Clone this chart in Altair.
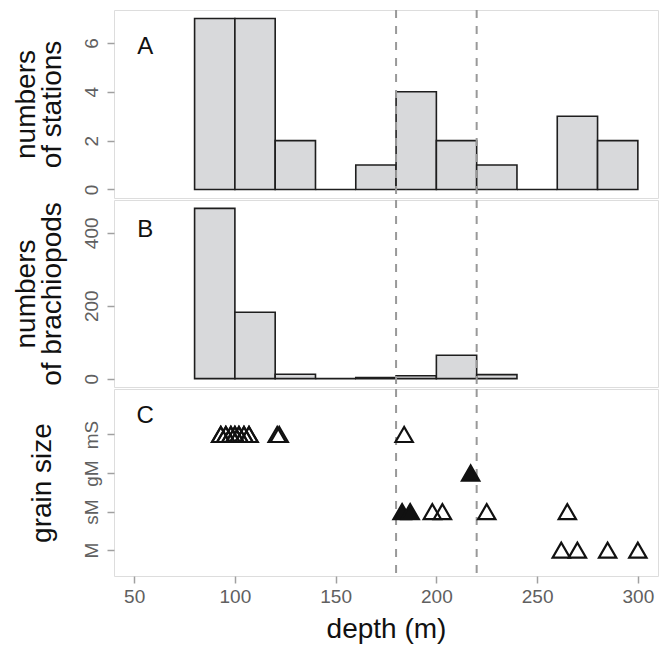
import altair as alt
import pandas as pd

# --- data ---
bin_start = [80, 100, 120, 140, 160, 180, 200, 220, 240, 260, 280]
stations = [7, 7, 2, 0, 1, 4, 2, 1, 0, 3, 2]
brachiopods = [467, 182, 12, 0, 3, 8, 64, 11, 0, 0, 0]

grain_levels = ["M", "sM", "gM", "mS"]
pt_depth = [93, 93, 95.5, 95.5, 98, 98, 100, 100, 102, 102, 104.5, 104.5, 107, 107,
            121, 122,
            184,
            183, 187, 198, 203, 225, 265,
            217,
            262, 270, 285, 300]
pt_grain = ["mS"] * 17 + ["sM"] * 6 + ["gM"] + ["M"] * 4
pt_filled = [False] * 17 + [True, True, False, False, False, False] + [True] + [False] * 4

boundaries = [180, 220]
x_ticks = [50, 100, 150, 200, 250, 300]

# --- tables ---
hist = pd.DataFrame({"x": bin_start, "x2": [b + 20 for b in bin_start],
                     "stations": stations, "brachiopods": brachiopods})
hist_b = hist[hist["x"] < 240]
pts = pd.DataFrame({"depth": pt_depth, "grain": pt_grain, "filled": pt_filled})
pts["level"] = pts["grain"].map({g: i + 1 for i, g in enumerate(grain_levels)})
vl = pd.DataFrame({"d": boundaries})

W = 544
FONT = "Liberation Sans"
XDOM = [40, 310]
xscale = alt.Scale(domain=XDOM, nice=False, zero=False)
LABEL_COLOR = "#606060"
TICK_COLOR = "#a0a0a0"

xaxis_bottom = alt.Axis(title="depth (m)", values=x_ticks, grid=False, domain=False,
                        tickColor=TICK_COLOR, tickSize=7, tickWidth=1.5,
                        labelColor=LABEL_COLOR, labelFontSize=19, labelPadding=4,
                        titleFontSize=28, titlePadding=9, titleFontWeight="normal",
                        titleColor="#111111", labelFont=FONT, titleFont=FONT)

def yaxis(title, values, labelExpr=None, titlePadding=16):
    kw = dict(title=title, values=values, grid=False, domain=False,
              tickColor=TICK_COLOR, tickSize=7, tickWidth=1.5,
              labelColor=LABEL_COLOR, labelFontSize=19, labelAngle=-90,
              labelPadding=6, titleFontSize=28, titleFontWeight="normal",
              titleColor="#111111", titlePadding=titlePadding, labelFont=FONT,
              titleFont=FONT, titleLineHeight=26)
    if labelExpr:
        kw["labelExpr"] = labelExpr
    return alt.Axis(**kw)

def vlines(axis=None):
    return alt.Chart(vl).mark_rule(color="#999999", strokeWidth=2, strokeDash=[8, 8]).encode(
        x=alt.X("d:Q", scale=xscale, axis=axis))

def letter(ch, ypx, axis=None):
    return alt.Chart(pd.DataFrame({"x": [55.5], "t": [ch]})).mark_text(
        fontSize=24, font=FONT, color="#111111").encode(
        x=alt.X("x:Q", scale=xscale, axis=axis), y=alt.value(ypx), text="t:N")

barstyle = dict(fill="#d8d9db", stroke="#1e1e1e", strokeWidth=1.6)

# Panel A
a_bars = alt.Chart(hist).mark_rect(**barstyle).encode(
    x=alt.X("x:Q", scale=xscale, axis=None), x2="x2:Q",
    y=alt.Y("stations:Q", scale=alt.Scale(domain=[-0.35, 7.35], nice=False, zero=False),
            axis=yaxis(["numbers", "of stations"], [0, 2, 4, 6])),
    y2=alt.datum(0))
panelA = alt.layer(a_bars, vlines(), letter("A", 37)).properties(width=W, height=188)

# Panel B
b_bars = alt.Chart(hist_b).mark_rect(**barstyle).encode(
    x=alt.X("x:Q", scale=xscale, axis=None), x2="x2:Q",
    y=alt.Y("brachiopods:Q", scale=alt.Scale(domain=[-23, 490], nice=False, zero=False),
            axis=yaxis(["numbers", "of brachiopods"], [0, 200, 400])),
    y2=alt.datum(0))
panelB = alt.layer(b_bars, vlines(), letter("B", 30)).properties(width=W, height=187)

# Panel C
c_pts = alt.Chart(pts).mark_point(shape="triangle-up", size=300, strokeWidth=2.2,
                                  opacity=1).encode(
    x=alt.X("depth:Q", scale=xscale, axis=xaxis_bottom),
    y=alt.Y("level:Q", scale=alt.Scale(domain=[0.33, 5.18], nice=False, zero=False),
            axis=yaxis("grain size", [1, 2, 3, 4],
                       "datum.value == 1 ? 'M' : datum.value == 2 ? 'sM' : datum.value == 3 ? 'gM' : 'mS'",
                       titlePadding=26)),
    fill=alt.Fill("filled:N", scale=alt.Scale(domain=[False, True], range=["transparent", "#111111"]),
                  legend=None),
    stroke=alt.value("#111111"))
panelC = alt.layer(vlines(xaxis_bottom), c_pts, letter("C", 27, xaxis_bottom)).properties(
    width=W, height=187)

chart = alt.vconcat(panelA, panelB, panelC, spacing=-2).configure_view(
    stroke="#aaaaaa", strokeWidth=2).configure(font=FONT).properties(
    padding={"left": 3, "top": 0, "right": 0, "bottom": 0})

chart.save("out.html", embed_options={"renderer": "svg", "actions": False})
